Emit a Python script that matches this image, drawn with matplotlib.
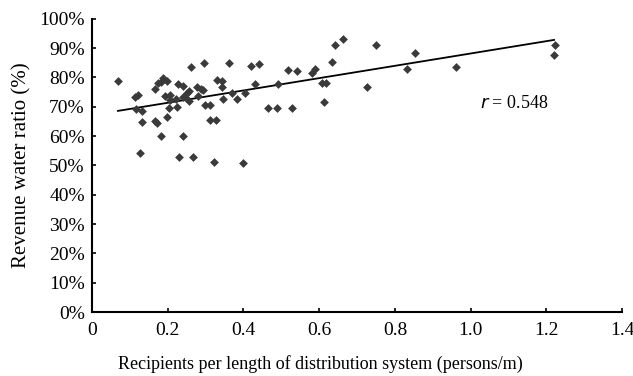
import numpy as np
import matplotlib.pyplot as plt
from matplotlib.ticker import PercentFormatter

# recipients per length of distribution system (persons/m)
recipients = [0.069, 0.114, 0.121, 0.118, 0.133, 0.133, 0.127, 0.167, 0.167, 0.171,
              0.176, 0.183, 0.189, 0.198, 0.192, 0.183, 0.198, 0.207, 0.205, 0.207,
              0.222, 0.224, 0.227, 0.240, 0.231, 0.242, 0.247, 0.251, 0.256, 0.257,
              0.242, 0.262, 0.267, 0.278, 0.280, 0.287, 0.293, 0.295, 0.300, 0.313,
              0.311, 0.327, 0.322, 0.331, 0.343, 0.343, 0.346, 0.362, 0.371, 0.383,
              0.399, 0.405, 0.421, 0.431, 0.442, 0.466, 0.489, 0.491, 0.517, 0.542,
              0.528, 0.582, 0.588, 0.608, 0.617, 0.612, 0.633, 0.641, 0.662,
              0.751, 0.852, 0.833, 0.727, 0.961, 1.223, 1.220]
# revenue water ratio (%)
revenue = [78.9, 73.5, 74.1, 69.2, 68.7, 64.7, 54.2, 76.1, 65.3, 64.5,
           78.0, 78.3, 79.8, 78.9, 73.8, 60.2, 66.4, 74.1, 69.6, 72.3,
           72.7, 69.8, 77.8, 77.2, 52.8, 60.2, 73.2, 74.6, 75.5, 72.1,
           73.5, 83.4, 52.8, 76.6, 73.8, 76.1, 75.7, 84.9, 70.7, 70.7,
           65.5, 65.5, 51.1, 79.2, 78.7, 76.9, 72.6, 84.9, 74.6, 72.7,
           50.8, 74.6, 84.0, 77.8, 84.6, 69.6, 69.6, 77.8, 82.5, 82.3,
           69.6, 81.4, 82.9, 78.0, 78.0, 71.5, 85.4, 91.2, 93.1,
           91.2, 88.5, 83.0, 76.7, 83.6, 91.2, 87.5]

# regression line end points
fit_x = [0.069, 1.22]
fit_y = [68.6, 92.8]

plt.rcParams['font.family'] = 'Liberation Serif'

fig = plt.figure(figsize=(6.33, 3.76), dpi=100)
ax = fig.add_axes([0.145, 0.17, 0.838, 0.78])

ax.scatter(recipients, revenue, marker='D', s=20, color='#3a3a3a', linewidths=0, zorder=3)
ax.plot(fit_x, fit_y, color='black', lw=1.3, zorder=2)

ax.text(1.025, 71, r'$\mathit{r}$ = 0.548', fontsize=13, va='center', ha='left')

ax.set_xlim(0, 1.4)
ax.set_ylim(0, 100)
ax.set_xticks(np.arange(0, 1.41, 0.2))
ax.set_xticklabels(['0', '0.2', '0.4', '0.6', '0.8', '1.0', '1.2', '1.4'])
ax.set_yticks(np.arange(0, 101, 10))
ax.yaxis.set_major_formatter(PercentFormatter(decimals=0))
ax.tick_params(direction='in', length=3, width=1.2, labelsize=14)
ax.tick_params(axis='x', pad=7)
ax.tick_params(axis='y', pad=5)

for s in ['top', 'right']:
    ax.spines[s].set_visible(False)
for s in ['left', 'bottom']:
    ax.spines[s].set_linewidth(1.5)

ax.set_xlabel('Recipients per length of distribution system (persons/m)', fontsize=13, labelpad=9)
ax.xaxis.set_label_coords(0.43, -0.145)
ax.set_ylabel('Revenue water ratio (%)', fontsize=15, labelpad=6)

fig.savefig('out.png', dpi=100)
